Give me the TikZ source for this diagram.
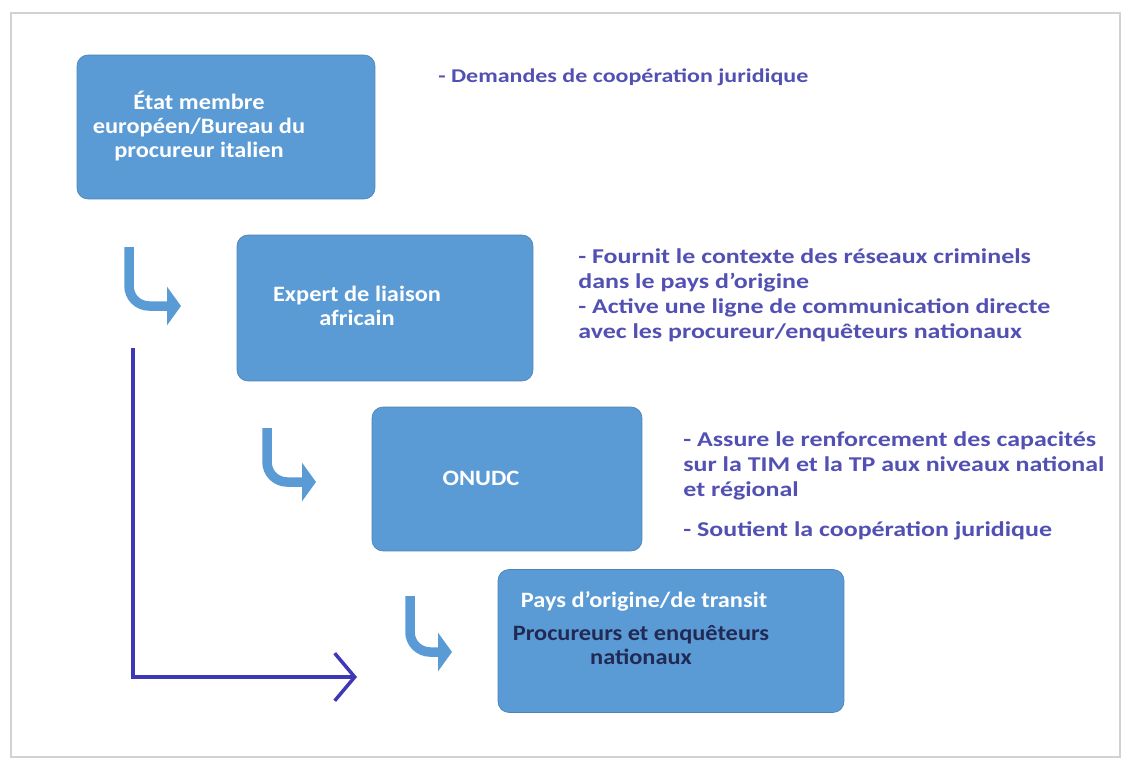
\documentclass[tikz,border=0pt]{standalone}
\usepackage{fontspec}
\setmainfont{Carlito}
\newfontfamily\boxfont{Carlito}[FakeStretch=1.11]
\newfontfamily\notefont{Carlito}[FakeStretch=1.23]
\usetikzlibrary{arrows.meta}
\definecolor{B1}{RGB}{91,155,213}
\definecolor{T1}{RGB}{82,80,178}
\definecolor{L1}{RGB}{62,56,182}
\definecolor{N1}{RGB}{32,42,84}

\begin{document}
\begin{tikzpicture}[x=0.02cm, y=-0.02cm,
    box/.style={draw=B1!85!black, line width=0.4pt, fill=B1, rounded corners=0.22cm, inner sep=0pt},
    boxtext/.style={text=white, font=\boxfont\fontsize{12.5}{13.7}\selectfont\bfseries, align=center, inner sep=0pt},
    note/.style={text=T1, font=\notefont\fontsize{12}{14.2}\selectfont\bfseries, align=left, anchor=west, inner sep=0pt},
    bent/.style={draw=B1, line width=0.19cm, rounded corners=0.4cm, -{Triangle[length=0.28cm, width=0.76cm]}},
    longline/.style={draw=L1, line width=0.07cm, -{Straight Barb[length=0.4cm, width=0.95cm]}}]
      \useasboundingbox (0,0) rectangle (1125,760);
      \draw[gray!35, line width=0.04cm] (11,13) rectangle (1120,757);
      % boxes
      \node[box, minimum width=5.96cm, minimum height=2.88cm] (etat) at (226,127) {};
      \node[box, minimum width=5.92cm, minimum height=2.92cm] (expert) at (385,308) {};
      \node[box, minimum width=5.40cm, minimum height=2.88cm] (onudc) at (507,479) {};
      \node[box, minimum width=6.92cm, minimum height=2.86cm] (pays) at (671,641) {};
      \node[boxtext] (etatT) at (199,126) {État membre\\européen/Bureau du\\procureur italien};
      \node[boxtext] (expertT) at (357,306) {Expert de liaison\\africain};
      \node[boxtext] (onudcT) at (481,478) {ONUDC};
      \node[boxtext] (paysT) at (644,601) {Pays d’origine/de transit};
      \node[boxtext, text=N1] (procT) at (641,645) {Procureurs et enquêteurs\\nationaux};
      % notes
      \node[note, font=\notefont\fontsize{11.1}{14.2}\selectfont\bfseries] (n1) at (438,77) {- Demandes de coopération juridique};
      \node[note] (n2) at (578,295) {- Fournit le contexte des réseaux criminels\\dans le pays d’origine\\- Active une ligne de communication directe\\avec les procureur/enquêteurs nationaux};
      \node[note] (n3) at (683,486) {- Assure le renforcement des capacités\\sur la TIM et la TP aux niveaux national\\et régional\\[8.5pt]- Soutient la coopération juridique};
      % bent arrows
      \coordinate (a1s) at (129,247); \coordinate (a1e) at (181,306);
      \coordinate (a2s) at (267,428); \coordinate (a2e) at (316,482);
      \coordinate (a3s) at (410,596); \coordinate (a3e) at (452,652);
      \draw[bent] (a1s) |- (a1e);
      \draw[bent] (a2s) |- (a2e);
      \draw[bent] (a3s) |- (a3e);
      % long line
      \coordinate (ls) at (133,348); \coordinate (le) at (357,677);
      \draw[longline] (ls) |- (le);
    \end{tikzpicture}
\end{document}
